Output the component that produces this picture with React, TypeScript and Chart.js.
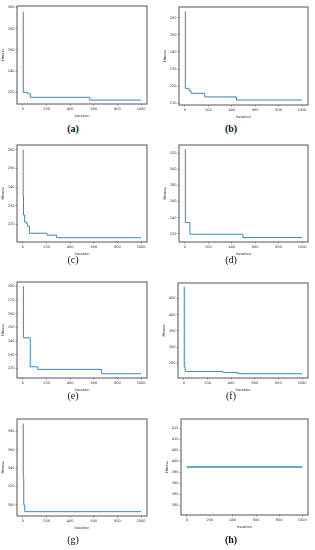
import React, { useEffect, useRef } from 'react';
import { Chart, registerables } from 'chart.js';

Chart.register(...registerables);

// ---- data ----
const xTicks = [0, 200, 400, 600, 800, 1000];

const iterA = [0, 3, 35, 45, 55, 65, 565, 1000];
const fitA = [296, 220, 219.5, 219, 218.3, 215.3, 212.7, 212.7];
const yTicksA = [220, 240, 260, 280, 300];

const iterB = [0, 4, 35, 52, 170, 440, 1000];
const fitB = [263.5, 218.8, 217.4, 215.9, 213.8, 212, 212];
const yTicksB = [210, 220, 230, 240, 250, 260];

const iterC = [0, 2, 5, 15, 30, 38, 55, 205, 285, 1000];
const fitC = [260, 235, 225, 221.2, 220.5, 219, 215.2, 214.2, 212.8, 212.8];
const yTicksC = [220, 230, 240, 250, 260];

const iterD = [0, 4, 43, 495, 1000];
const fitD = [324.6, 234, 219.6, 215.5, 215.5];
const yTicksD = [220, 240, 260, 280, 300, 320];

const iterE = [0, 4, 62, 126, 666, 1000];
const fitE = [280, 242.4, 221.2, 219.3, 216.1, 216.1];
const yTicksE = [220, 230, 240, 250, 260, 270, 280];

const iterF = [0, 3, 10, 332, 455, 1000];
const fitF = [485, 240, 225.6, 222.6, 218.6, 218.6];
const yTicksF = [250, 300, 350, 400, 450];

const iterG = [0, 3, 7, 16, 1000];
const fitG = [388.4, 330, 300, 292.7, 292.7];
const yTicksG = [300, 320, 340, 360, 380];

const iterH = [0, 1000];
const fitH = [397.35, 397.35];
const yTicksH = [380, 385, 390, 395, 400, 405, 410, 415];

const captions = ['(a)', '(b)', '(c)', '(d)', '(e)', '(f)', '(g)', '(h)'];

// ---- layout / style ----
const LINE = '#3686c0';
const FRAME = '#555';
const TXT = '#333';
const FONT = 'DejaVu Sans';
const Y_AXIS_W = 17;
const X_AXIS_H = 14;
const PAD_T = 4;
const PAD_R = 4;

type Panel = {
  iters: number[];
  fits: number[];
  yTicks: number[];
  yMin: number;
  yMax: number;
  L: number; R: number; T: number; B: number;
  cx: number; cy: number; bold: boolean;
};

const panels: Panel[] = [
  { iters: iterA, fits: fitA, yTicks: yTicksA, yMin: 209, yMax: 301.5, L: 17, R: 147, T: 6, B: 104, cx: 73, cy: 129, bold: true },
  { iters: iterB, fits: fitB, yTicks: yTicksB, yMin: 209.1, yMax: 266.2, L: 179, R: 308, T: 7, B: 105, cx: 231, cy: 129, bold: true },
  { iters: iterC, fits: fitC, yTicks: yTicksC, yMin: 210.5, yMax: 262.6, L: 17, R: 147, T: 145, B: 242, cx: 73, cy: 260, bold: false },
  { iters: iterD, fits: fitD, yTicks: yTicksD, yMin: 210, yMax: 330, L: 179, R: 308, T: 145, B: 242, cx: 231, cy: 260, bold: false },
  { iters: iterE, fits: fitE, yTicks: yTicksE, yMin: 213, yMax: 283.2, L: 17, R: 147, T: 282, B: 378, cx: 73, cy: 396, bold: false },
  { iters: iterF, fits: fitF, yTicks: yTicksF, yMin: 205.5, yMax: 497, L: 178, R: 308, T: 283, B: 378, cx: 231, cy: 396, bold: false },
  { iters: iterG, fits: fitG, yTicks: yTicksG, yMin: 288, yMax: 393.5, L: 17, R: 147, T: 419, B: 516, cx: 73, cy: 540, bold: false },
  { iters: iterH, fits: fitH, yTicks: yTicksH, yMin: 375.5, yMax: 419.2, L: 181, R: 308, T: 419, B: 515, cx: 231, cy: 540, bold: true },
];

const framePlugin = {
  id: 'frame',
  afterDraw(chart: any) {
    const { ctx, chartArea: a } = chart;
    ctx.save();
    ctx.strokeStyle = FRAME;
    ctx.lineWidth = 1;
    ctx.strokeRect(a.left, a.top, a.right - a.left, a.bottom - a.top);
    ctx.restore();
  },
};

function PanelChart({ p }: { p: Panel }) {
  const ref = useRef<HTMLCanvasElement | null>(null);
  const w = p.R - p.L + Y_AXIS_W + PAD_R;
  const h = p.B - p.T + PAD_T + X_AXIS_H;
  useEffect(() => {
    if (!ref.current) return;
    const tickFont = { size: 3.5, family: FONT };
    const chart = new Chart(ref.current, {
      type: 'line',
      data: {
        datasets: [
          {
            data: p.iters.map((x, i) => ({ x, y: p.fits[i] })),
            borderColor: LINE,
            borderWidth: p.iters.length === 2 ? 1.4 : 1,
            pointRadius: 0,
            stepped: 'before',
            fill: false,
          } as any,
        ],
      },
      options: {
        animation: false,
        responsive: false,
        events: [],
        layout: { padding: { top: PAD_T, right: PAD_R, left: 0, bottom: 0 } },
        plugins: { legend: { display: false }, tooltip: { enabled: false } },
        scales: {
          x: {
            type: 'linear',
            min: -50,
            max: 1050,
            afterBuildTicks: (s: any) => {
              s.ticks = xTicks.map((v) => ({ value: v }));
            },
            afterFit: (s: any) => {
              s.height = X_AXIS_H;
            },
            ticks: {
              font: tickFont,
              color: TXT,
              padding: 1,
              maxRotation: 0,
              autoSkip: false,
              callback: (v: any) => String(v),
            },
            grid: { drawOnChartArea: false, tickLength: 1.5, color: FRAME, lineWidth: 0.6 },
            border: { display: false },
            title: { display: true, text: 'Iteration', font: tickFont, color: TXT, padding: { top: 1, bottom: 0 } },
          },
          y: {
            type: 'linear',
            min: p.yMin,
            max: p.yMax,
            afterBuildTicks: (s: any) => {
              s.ticks = p.yTicks.map((v) => ({ value: v }));
            },
            afterFit: (s: any) => {
              s.width = Y_AXIS_W;
            },
            ticks: {
              font: tickFont,
              color: TXT,
              padding: 1,
              autoSkip: false,
              callback: (v: any) => String(v),
            },
            grid: { drawOnChartArea: false, tickLength: 1.5, color: FRAME, lineWidth: 0.6 },
            border: { display: false },
            title: { display: true, text: 'Fitness', font: tickFont, color: TXT, padding: { top: 1, bottom: 0 } },
          },
        },
      } as any,
      plugins: [framePlugin],
    });
    return () => chart.destroy();
  }, [p]);
  return (
    <canvas
      ref={ref}
      width={w}
      height={h}
      style={{ position: 'absolute', left: p.L - Y_AXIS_W, top: p.T - PAD_T, width: w, height: h }}
    />
  );
}

export default function App() {
  return (
    <div style={{ position: 'absolute', left: 0, top: 0, width: 315, height: 550, background: '#fff', overflow: 'hidden' }}>
      {panels.map((p, i) => (
        <React.Fragment key={i}>
          <PanelChart p={p} />
          <div
            style={{
              position: 'absolute',
              left: p.cx - 20,
              top: p.cy - 7,
              width: 40,
              height: 14,
              lineHeight: '14px',
              textAlign: 'center',
              fontFamily: '"Liberation Serif", "DejaVu Serif", serif',
              fontSize: 10,
              fontWeight: p.bold ? 'bold' : 'normal',
              color: '#111',
            }}
          >
            {captions[i]}
          </div>
        </React.Fragment>
      ))}
    </div>
  );
}
